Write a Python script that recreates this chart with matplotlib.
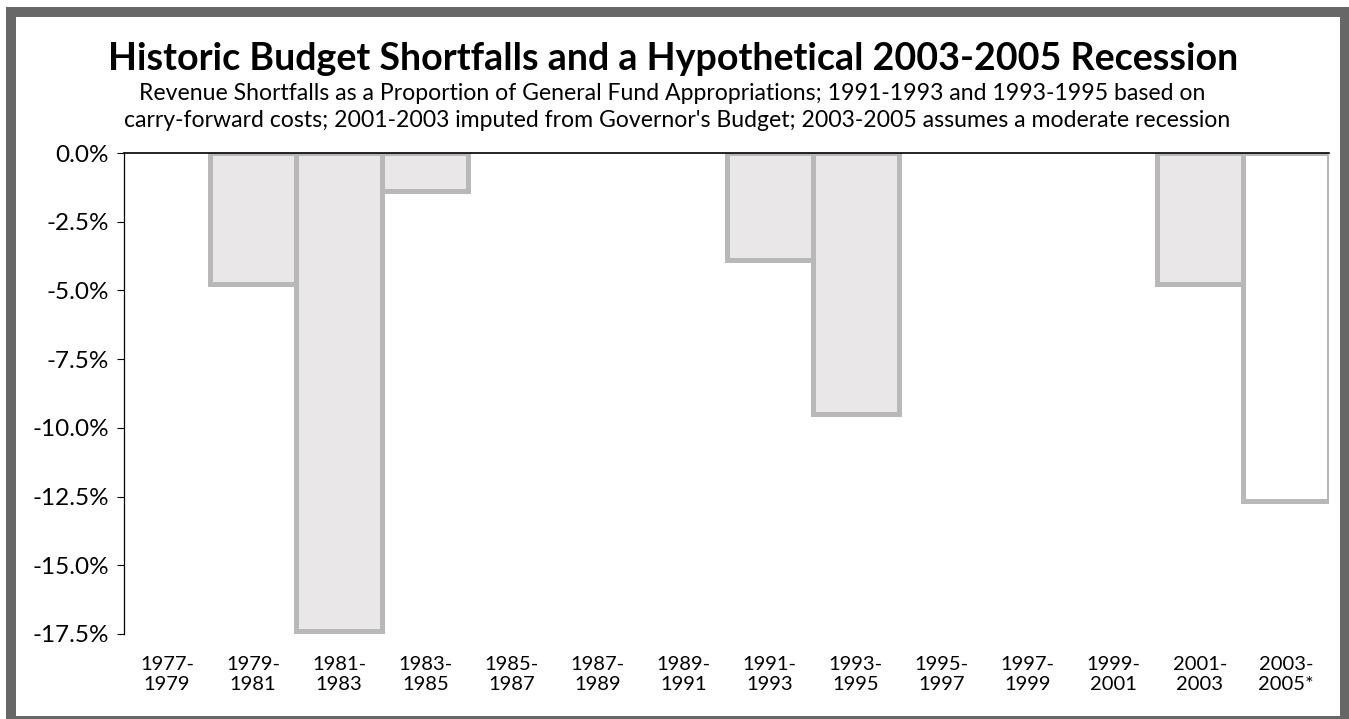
import numpy as np
import matplotlib.pyplot as plt
from matplotlib.patches import Rectangle

# Data (revenue shortfall, % of GF appropriations)
periods = ['1977-\n1979', '1979-\n1981', '1981-\n1983', '1983-\n1985', '1985-\n1987',
           '1987-\n1989', '1989-\n1991', '1991-\n1993', '1993-\n1995', '1995-\n1997',
           '1997-\n1999', '1999-\n2001', '2001-\n2003', '2003-\n2005*']
shortfall = [0.0, -4.75, -17.4, -1.4, 0.0, 0.0, 0.0, -3.9, -9.5, 0.0, 0.0, 0.0, -4.75, -12.65]
hypothetical = [False] * 13 + [True]
y_ticks = [0.0, -2.5, -5.0, -7.5, -10.0, -12.5, -15.0, -17.5]

title = 'Historic Budget Shortfalls and a Hypothetical 2003-2005 Recession'
sub1 = ('Revenue Shortfalls as a Proportion of General Fund Appropriations; '
        '1991-1993 and 1993-1995 based on')
sub2 = ("carry-forward costs; 2001-2003 imputed from Governor's Budget; "
        '2003-2005 assumes a moderate recession')

plt.rcParams['font.family'] = ['Lato', 'DejaVu Sans']

W, H = 1349, 719
fig = plt.figure(figsize=(W / 100, H / 100), dpi=100)
fig.patch.set_facecolor('white')

ax = fig.add_axes([124 / W, (H - 634) / H, (1329 - 124) / W, (634 - 153) / H])

x = np.arange(len(periods))
fills = ['white' if h else '#e9e7e8' for h in hypothetical]
widths = [3.6 if v != 0 else 0 for v in shortfall]
ax.bar(x, shortfall, width=1.0, color=fills, edgecolor='#b8b8b8', linewidth=widths, zorder=1)

ax.set_xlim(-0.5, len(periods) - 0.5)
ax.set_ylim(-17.5, 0)
ax.set_yticks(y_ticks)
ax.set_yticklabels([f'{v:.1f}%' for v in y_ticks], fontsize=17.5)
ax.set_xticks(x)
ax.set_xticklabels(periods, fontsize=14.5, linespacing=1.2)
ax.tick_params(axis='y', direction='out', length=5, width=0.8, pad=6)
ax.tick_params(axis='x', length=0, pad=16)

ax.spines['right'].set_visible(False)
ax.spines['bottom'].set_visible(False)
ax.spines['top'].set_linewidth(1.2)
ax.spines['left'].set_linewidth(0.9)
ax.spines['top'].set_zorder(3)

# titles
t = fig.text(673 / W, (H - 70) / H, title, fontsize=26, fontweight='bold',
             ha='center', va='baseline')
s1 = fig.text(672 / W, (H - 100) / H, sub1, fontsize=15, ha='center', va='baseline')
s2 = fig.text(677 / W, (H - 127) / H, sub2, fontsize=15, ha='center', va='baseline')

r = fig.canvas.get_renderer()
def fit(txt, target):
    w = txt.get_window_extent(r).width
    txt.set_fontsize(txt.get_fontsize() * target / w)

fit(t, 1133)
fit(s2, 1105)
s1.set_fontsize(s2.get_fontsize())

# dark grey frame around the chart
frame = '#676767'
for x0, y0, x1, y1 in [(6, 7, 1349, 17), (6, 7, 16, 719), (1340, 7, 1349, 719), (6, 716, 1349, 719)]:
    fig.add_artist(Rectangle((x0 / W, (H - y1) / H), (x1 - x0) / W, (y1 - y0) / H,
                             transform=fig.transFigure, color=frame, lw=0))

fig.savefig('out.png', dpi=100)
